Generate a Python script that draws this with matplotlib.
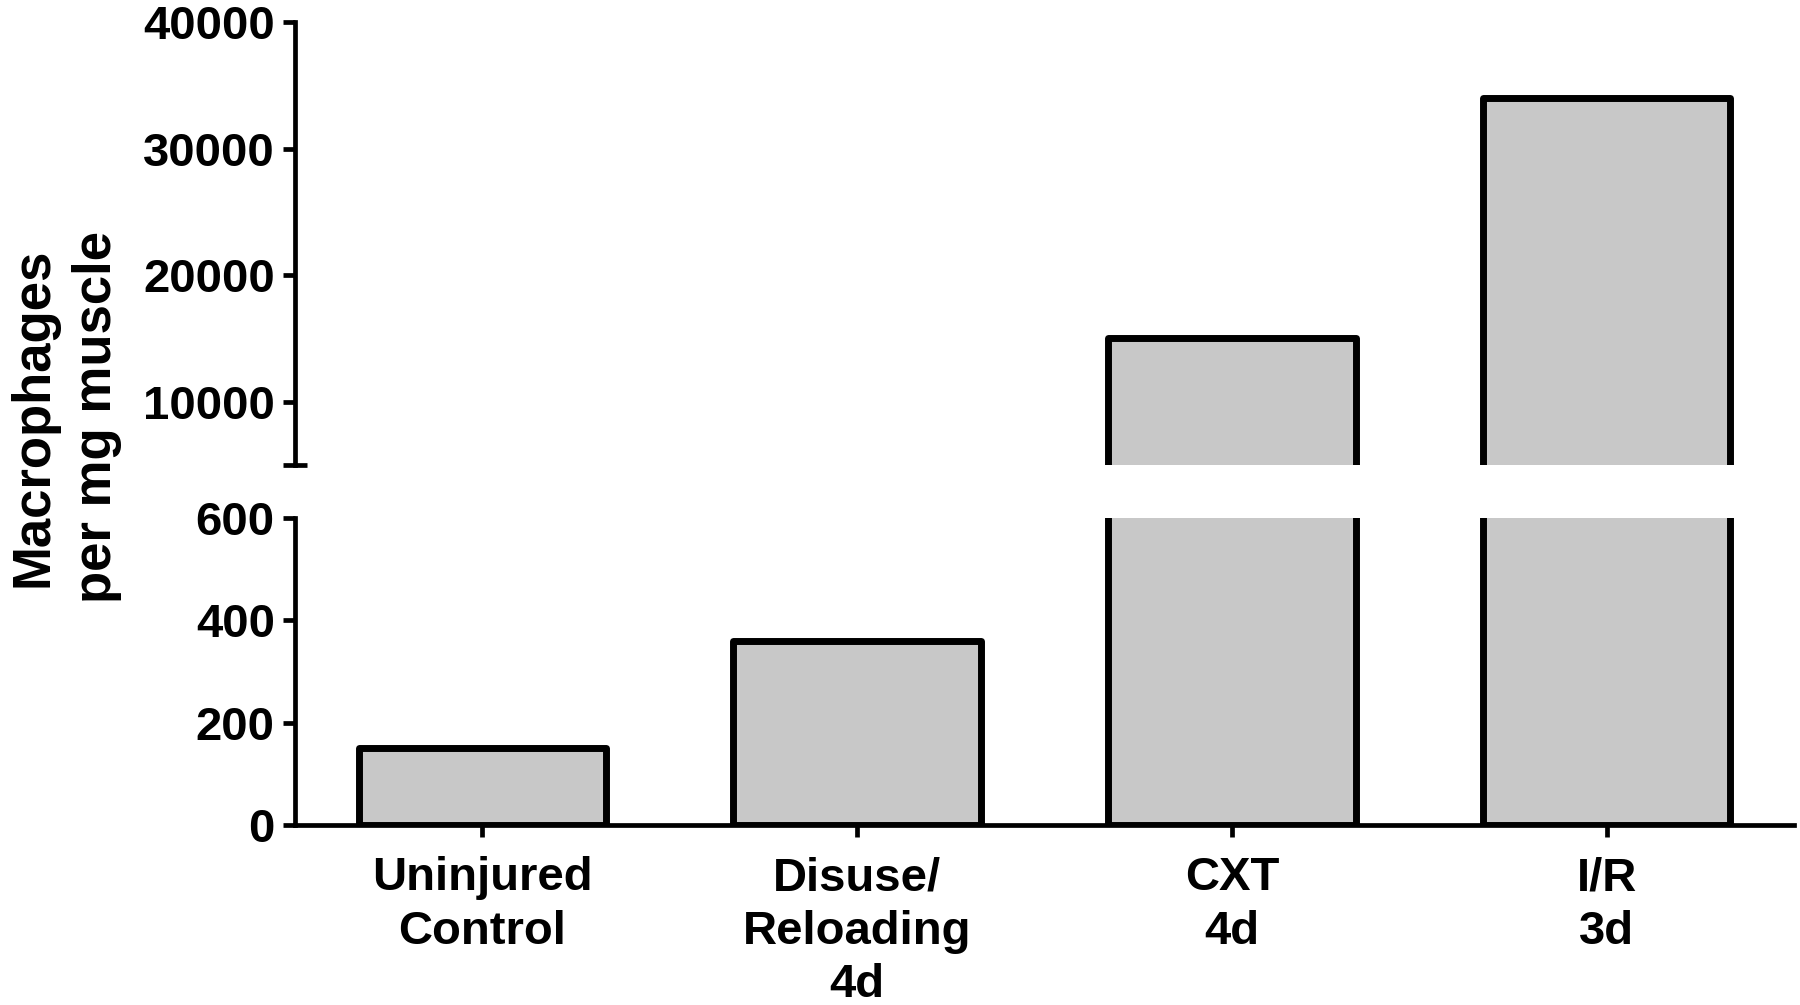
import matplotlib
matplotlib.use("Agg")
import matplotlib.pyplot as plt
import numpy as np

categories = ["Uninjured\nControl", "Disuse/\nReloading\n4d", "CXT\n4d", "I/R\n3d"]
values = [150, 360, 15000, 34000]
top_ticks = [10000, 20000, 30000, 40000]
bottom_ticks = [0, 200, 400, 600]
ylabel = "Macrophages\nper mg muscle"

plt.rcParams['font.family'] = ['Liberation Sans', 'DejaVu Sans']
plt.rcParams['font.weight'] = 'bold'
FS = 34
LW_SPINE = 3.4
LW_BAR = 5.0
TL = 8.5
fill = "#c8c8c8"

fig = plt.figure(figsize=(18, 10.05), dpi=100)
left, right = 295 / 1800, 1794 / 1800
ax_top = fig.add_axes([left, 1 - 465 / 1005, right - left, (465 - 22) / 1005])
ax_bot = fig.add_axes([left, 1 - 825 / 1005, right - left, (825 - 518) / 1005])

x = np.arange(len(categories))
for ax in (ax_top, ax_bot):
    ax.bar(x, values, width=0.66, color=fill, edgecolor="black",
           linewidth=LW_BAR, joinstyle="round")
    ax.set_xlim(-0.5, 3.5)
    for s in ("top", "right"):
        ax.spines[s].set_visible(False)
    ax.spines["left"].set_linewidth(LW_SPINE)
    ax.tick_params(axis="both", width=LW_SPINE, length=TL, labelsize=FS, pad=6)

ax_top.set_ylim(5000, 40000)
ax_top.set_yticks(top_ticks)
ax_top.set_yticklabels([str(t) for t in top_ticks], fontweight="bold")
ax_top.spines["bottom"].set_visible(False)
ax_top.set_xticks([])
ax_top.set_yticks([5000], minor=True)
ax_top.tick_params(axis="y", which="minor", direction="inout", length=2 * TL, width=LW_SPINE)

ax_bot.set_ylim(0, 600)
ax_bot.set_yticks(bottom_ticks)
ax_bot.set_yticklabels([str(t) for t in bottom_ticks], fontweight="bold")
ax_bot.set_yticks([600], minor=True)
ax_bot.tick_params(axis="y", which="minor", direction="inout", length=2 * TL, width=LW_SPINE)
ax_bot.spines["bottom"].set_linewidth(LW_SPINE)
ax_bot.set_xticks(x)
ax_bot.set_xticklabels(categories, fontweight="bold", linespacing=1.28)
ax_bot.tick_params(axis="x", pad=14)

fig.text(65 / 1800, 1 - 417 / 1005, ylabel, rotation=90, ha="center", va="center",
         fontsize=38, fontweight="bold", linespacing=1.35)

fig.savefig("out.png", dpi=100)
